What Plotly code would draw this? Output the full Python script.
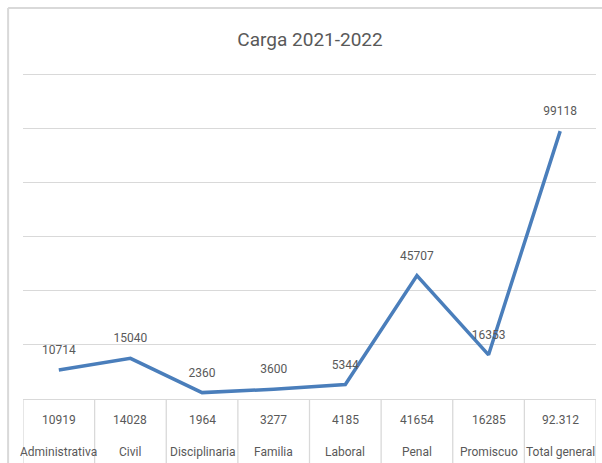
import plotly.graph_objects as go

# --- Data ---
categorias = ["Administrativa", "Civil", "Disciplinaria", "Familia", "Laboral",
              "Penal", "Promiscuo", "Total general"]
carga_linea = [10714, 15040, 2360, 3600, 5344, 45707, 16353, 99118]
tabla_valores = ["10919", "14028", "1964", "3277", "4185", "41654", "16285", "92.312"]

FONT = "Liberation Sans Narrow, Arial Narrow, Roboto, sans-serif"
GRAY_TEXT = "#595959"
GRID = "#d9d9d9"

fig = go.Figure()
fig.add_trace(go.Scatter(
    x=categorias,
    y=carga_linea,
    mode="lines+markers+text",
    text=[str(v) for v in carga_linea],
    textposition="top center",
    textfont=dict(family=FONT, size=12, color=GRAY_TEXT),
    line=dict(color="#4a7ebb", width=3.5),
    marker=dict(size=19, opacity=0),
    cliponaxis=False,
    hoverinfo="x+y",
))

# data-table under the axis: two rows of text per category
for cat, val in zip(categorias, tabla_valores):
    fig.add_annotation(x=cat, y=-0.064, xref="x", yref="paper", text=val,
                       showarrow=False, yanchor="middle",
                       font=dict(family=FONT, size=12, color=GRAY_TEXT))
    fig.add_annotation(x=cat, y=-0.161, xref="x", yref="paper", text=cat,
                       showarrow=False, yanchor="middle",
                       font=dict(family=FONT, size=12, color=GRAY_TEXT))

# table cell borders
n = len(categorias)
for i in range(n + 1):
    fig.add_shape(type="line", xref="x", yref="paper",
                  x0=i - 0.5, x1=i - 0.5, y0=0, y1=-0.25,
                  line=dict(color=GRID, width=1.3))

# outer chart border (left + top)
fig.add_shape(type="line", xref="paper", yref="paper",
              x0=-0.026, x1=1.02, y0=1.196, y1=1.196,
              line=dict(color=GRID, width=2))
fig.add_shape(type="line", xref="paper", yref="paper",
              x0=-0.026, x1=-0.026, y0=1.196, y1=-0.25,
              line=dict(color=GRID, width=2))

fig.update_layout(
    width=602, height=463,
    margin=dict(l=23, r=6, t=72, b=64),
    paper_bgcolor="white", plot_bgcolor="white",
    showlegend=False,
    title=dict(text="Carga 2021-2022", x=0.515, xanchor="center", y=0.915, yanchor="middle",
               font=dict(family=FONT, size=19, color=GRAY_TEXT)),
    xaxis=dict(range=[-0.5, n - 0.5], showticklabels=False, showgrid=False,
               showline=True, linecolor=GRID, linewidth=1.3, ticks="", zeroline=False),
    yaxis=dict(range=[0, 121000], dtick=20000, showticklabels=False,
               showgrid=True, gridcolor=GRID, gridwidth=1.3, zeroline=False,
               showline=False, ticks=""),
)

# drop the default page margin so the figure sits at the window origin
fig.write_html("out.html", config={"displayModeBar": False},
               post_script="document.body.style.margin='0';document.body.style.overflow='hidden';")
